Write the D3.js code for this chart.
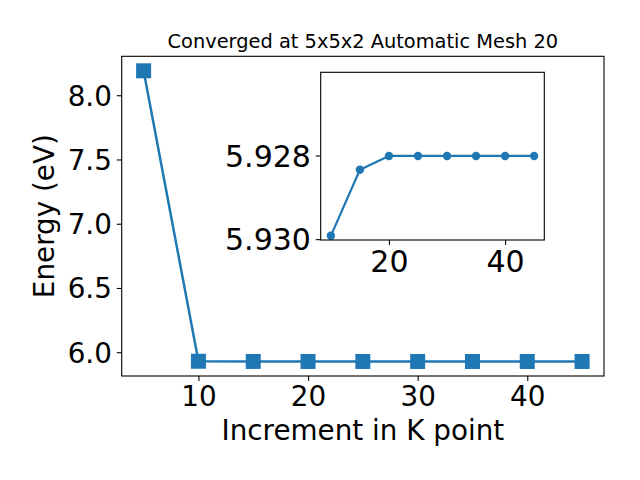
<!DOCTYPE html>
<html>
<head>
<meta charset="utf-8">
<script src="https://cdn.jsdelivr.net/npm/d3@7"></script>
<style>
  html, body { margin: 0; padding: 0; background: #fff; }
  svg { display: block; font-family: "DejaVu Sans", sans-serif; }
</style>
</head>
<body>
<svg id="chart" width="640" height="480"></svg>
<script>
// ---- data ----
const kPoints = [5, 10, 15, 20, 25, 30, 35, 40, 45];
const energies = [8.19, 5.92992, 5.92834, 5.92801, 5.92801, 5.92801, 5.92801, 5.92801, 5.92801];
const insetK = [10, 15, 20, 25, 30, 35, 40, 45];
const insetEnergies = [5.92992, 5.92834, 5.92801, 5.92801, 5.92801, 5.92801, 5.92801, 5.92801];
const mainXTicks = [10, 20, 30, 40];
const mainYTicks = [6.0, 6.5, 7.0, 7.5, 8.0];
const insetXTicks = [20, 40];
const insetYTicks = [5.928, 5.930];
const titleText = "Converged at 5x5x2 Automatic Mesh 20";
const xLabel = "Increment in K point";
const yLabel = "Energy (eV)";

const color = "#1f77b4";
const svg = d3.select("#chart");

// ---- main axes ----
const M = { left: 121.7, right: 604, top: 56.3, bottom: 376 };
const x = d3.scaleLinear().domain([3, 47]).range([M.left, M.right]);
const y = d3.scaleLinear().domain([5.815, 8.303]).range([M.bottom, M.top]);

const main = svg.append("g");

main.append("path")
  .datum(kPoints.map((k, i) => [k, energies[i]]))
  .attr("fill", "none").attr("stroke", color).attr("stroke-width", 2.5)
  .attr("stroke-linejoin", "round")
  .attr("d", d3.line().x(d => x(d[0])).y(d => y(d[1])));

const sq = 15;
main.selectAll("rect.pt").data(kPoints.map((k, i) => [k, energies[i]]))
  .enter().append("rect").attr("class", "pt")
  .attr("x", d => x(d[0]) - sq / 2).attr("y", d => y(d[1]) - sq / 2)
  .attr("width", sq).attr("height", sq).attr("fill", color);

function styleAxis(g, fontSize) {
  g.select(".domain").remove();
  g.selectAll(".tick line").attr("stroke", "#000").attr("stroke-width", 1.1);
  g.selectAll(".tick text").attr("fill", "#000")
    .style("font-family", "DejaVu Sans").style("font-size", fontSize + "px");
}

const fs = 27.8;
const fsi = 30;
const gx = main.append("g").attr("transform", `translate(0,${M.bottom})`)
  .call(d3.axisBottom(x).tickValues(mainXTicks).tickSize(4.9).tickPadding(4.9).tickFormat(d3.format("d")));
styleAxis(gx, fs);
gx.selectAll(".tick text").attr("dy", "0.73em");

const gy = main.append("g").attr("transform", `translate(${M.left},0)`)
  .call(d3.axisLeft(y).tickValues(mainYTicks).tickSize(4.9).tickPadding(4.9).tickFormat(d3.format(".1f")));
styleAxis(gy, fs);
gy.selectAll(".tick text").attr("dy", "0.36em");

main.append("rect").attr("x", M.left).attr("y", M.top)
  .attr("width", M.right - M.left).attr("height", M.bottom - M.top)
  .attr("fill", "none").attr("stroke", "#000").attr("stroke-width", 1.1);

svg.append("text").attr("x", (M.left + M.right) / 2).attr("y", 48)
  .attr("text-anchor", "middle").style("font-size", "19.4px").text(titleText);

svg.append("text").attr("x", (M.left + M.right) / 2).attr("y", 440)
  .attr("text-anchor", "middle").style("font-size", fs + "px").text(xLabel);

svg.append("text").attr("transform", `translate(54,${(M.top + M.bottom) / 2}) rotate(-90)`)
  .attr("text-anchor", "middle").style("font-size", fs + "px").text(yLabel);

// ---- inset axes ----
const I = { left: 320.7, right: 544.3, top: 72.3, bottom: 240 };
const xi = d3.scaleLinear().domain([8.25, 46.75]).range([I.left, I.right]);
const yi = d3.scaleLinear().domain([5.93002, 5.92601]).range([I.bottom, I.top]);

const inset = svg.append("g");
inset.append("rect").attr("x", I.left).attr("y", I.top)
  .attr("width", I.right - I.left).attr("height", I.bottom - I.top)
  .attr("fill", "#fff");

inset.append("path")
  .datum(insetK.map((k, i) => [k, insetEnergies[i]]))
  .attr("fill", "none").attr("stroke", color).attr("stroke-width", 2.2)
  .attr("stroke-linejoin", "round")
  .attr("d", d3.line().x(d => xi(d[0])).y(d => yi(d[1])));

inset.selectAll("circle.pt").data(insetK.map((k, i) => [k, insetEnergies[i]]))
  .enter().append("circle").attr("class", "pt")
  .attr("cx", d => xi(d[0])).attr("cy", d => yi(d[1])).attr("r", 4.2).attr("fill", color);

const gxi = inset.append("g").attr("transform", `translate(0,${I.bottom})`)
  .call(d3.axisBottom(xi).tickValues(insetXTicks).tickSize(4.9).tickPadding(4.9).tickFormat(d3.format("d")));
styleAxis(gxi, fsi);
gxi.selectAll(".tick text").attr("dy", "0.73em");

const gyi = inset.append("g").attr("transform", `translate(${I.left},0)`)
  .call(d3.axisLeft(yi).tickValues(insetYTicks).tickSize(4.9).tickPadding(4.9).tickFormat(d3.format(".3f")));
styleAxis(gyi, fsi);
gyi.selectAll(".tick text").attr("dy", "0.36em");

inset.append("rect").attr("x", I.left).attr("y", I.top)
  .attr("width", I.right - I.left).attr("height", I.bottom - I.top)
  .attr("fill", "none").attr("stroke", "#000").attr("stroke-width", 1.1);
</script>
</body>
</html>
